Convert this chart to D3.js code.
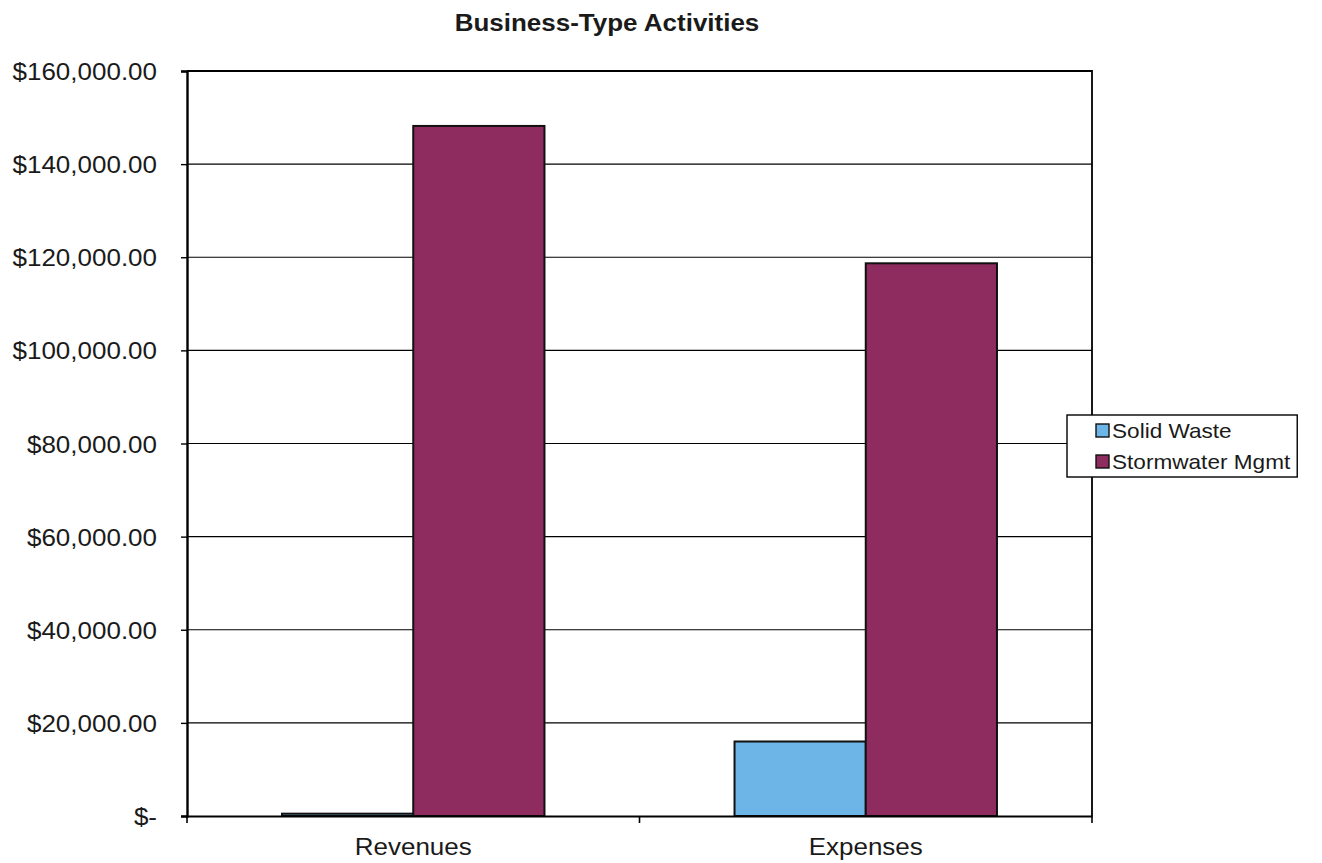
<!DOCTYPE html>
<html>
<head>
<meta charset="utf-8">
<script src="https://cdn.jsdelivr.net/npm/d3@7"></script>
<style>
html,body{margin:0;padding:0;background:#fff;}
text{font-family:"Liberation Sans",Arial,sans-serif;fill:#1a1a1a;}
</style>
</head>
<body>
<svg id="chart" width="1322" height="863"></svg>
<script>
const title = "Business-Type Activities";
const categories = ["Revenues", "Expenses"];
const seriesNames = ["Solid Waste", "Stormwater Mgmt"];
const solidWaste = [500, 16000];
const stormwater = [148200, 118700];
const yTicks = [0, 20000, 40000, 60000, 80000, 100000, 120000, 140000, 160000];
const colors = ["#6db5e6", "#8e2b5f"];

const svg = d3.select("#chart");
const m = {left: 187, right: 1092, top: 71, bottom: 816};
const SX = 1.13;

const x0 = d3.scaleBand().domain(categories).range([m.left, m.right]).paddingInner(0).paddingOuter(0);
const clusterW = x0.bandwidth() * 0.58;
const x1 = d3.scaleBand().domain(seriesNames).range([0, clusterW]);
const y = d3.scaleLinear().domain([0, 160000]).range([m.bottom, m.top]);

const values = [solidWaste, stormwater];

function stretchedText(g, x, yy, str, size, anchor, weight) {
  return g.append("text")
    .attr("transform", `translate(${x},${yy}) scale(${SX},1)`)
    .attr("text-anchor", anchor)
    .style("font-size", size + "px")
    .style("font-weight", weight || "normal")
    .text(str);
}

// gridlines
svg.append("g").selectAll("line").data(yTicks.filter(d => d > 0 && d < 160000)).join("line")
  .attr("x1", m.left).attr("x2", m.right)
  .attr("y1", d => y(d)).attr("y2", d => y(d))
  .attr("stroke", "#000").attr("stroke-width", 1.2);

// plot border (top & right)
svg.append("path")
  .attr("d", `M${m.left},${m.top}H${m.right}V${m.bottom}`)
  .attr("fill", "none").attr("stroke", "#000").attr("stroke-width", 1.8);

// bars
const bars = svg.append("g");
seriesNames.forEach((s, si) => {
  categories.forEach((c, ci) => {
    const cx = x0(c) + (x0.bandwidth() - clusterW) / 2 + x1(s);
    const v = values[si][ci];
    bars.append("rect")
      .attr("x", cx).attr("y", y(v))
      .attr("width", x1.bandwidth()).attr("height", m.bottom - y(v))
      .attr("fill", colors[si]).attr("stroke", "#111").attr("stroke-width", 2);
  });
});

// y axis
const yAxis = svg.append("g").attr("transform", `translate(${m.left},0)`)
  .call(d3.axisLeft(y).tickValues(yTicks).tickSize(6).tickFormat(""));
yAxis.select(".domain").attr("stroke", "#000").attr("stroke-width", 2.4);
yAxis.selectAll(".tick line").attr("stroke", "#000").attr("stroke-width", 1.4);

const fmt = d3.format(",.2f");
yTicks.forEach(t => {
  const lbl = t === 0 ? "$-" : "$" + fmt(t);
  stretchedText(svg, 157, y(t) + 9, lbl, 23, "end");
});

// x axis
const xAxis = svg.append("g").attr("transform", `translate(0,${m.bottom})`)
  .call(d3.axisBottom(x0).tickSize(0).tickFormat(""));
xAxis.select(".domain").attr("stroke", "#000").attr("stroke-width", 2.2);
const bounds = [m.left, x0("Expenses"), m.right];
svg.append("g").selectAll("line").data(bounds).join("line")
  .attr("x1", d => d).attr("x2", d => d)
  .attr("y1", m.bottom).attr("y2", m.bottom + 7)
  .attr("stroke", "#000").attr("stroke-width", 1.6);

categories.forEach(c => {
  stretchedText(svg, x0(c) + x0.bandwidth() / 2, 855, c, 23, "middle");
});

// title
stretchedText(svg, 607, 31, title, 23, "middle", "bold");

// legend
const lg = svg.append("g");
const lgBox = lg.append("rect").attr("x", 1067).attr("y", 415).attr("height", 62)
  .attr("fill", "#fff").attr("stroke", "#000").attr("stroke-width", 1.4);
let maxRight = 0;
seriesNames.forEach((s, i) => {
  const cy = 431 + i * 31;
  lg.append("rect").attr("x", 1096).attr("y", cy - 7).attr("width", 13).attr("height", 13)
    .attr("fill", colors[i]).attr("stroke", "#111").attr("stroke-width", 1.4);
  const t = stretchedText(lg, 1112, cy + 7, s, 20, "start");
  const w = t.node().getComputedTextLength() * SX;
  maxRight = Math.max(maxRight, 1112 + w);
});
lgBox.attr("width", maxRight + 7 - 1067);
</script>
</body>
</html>
